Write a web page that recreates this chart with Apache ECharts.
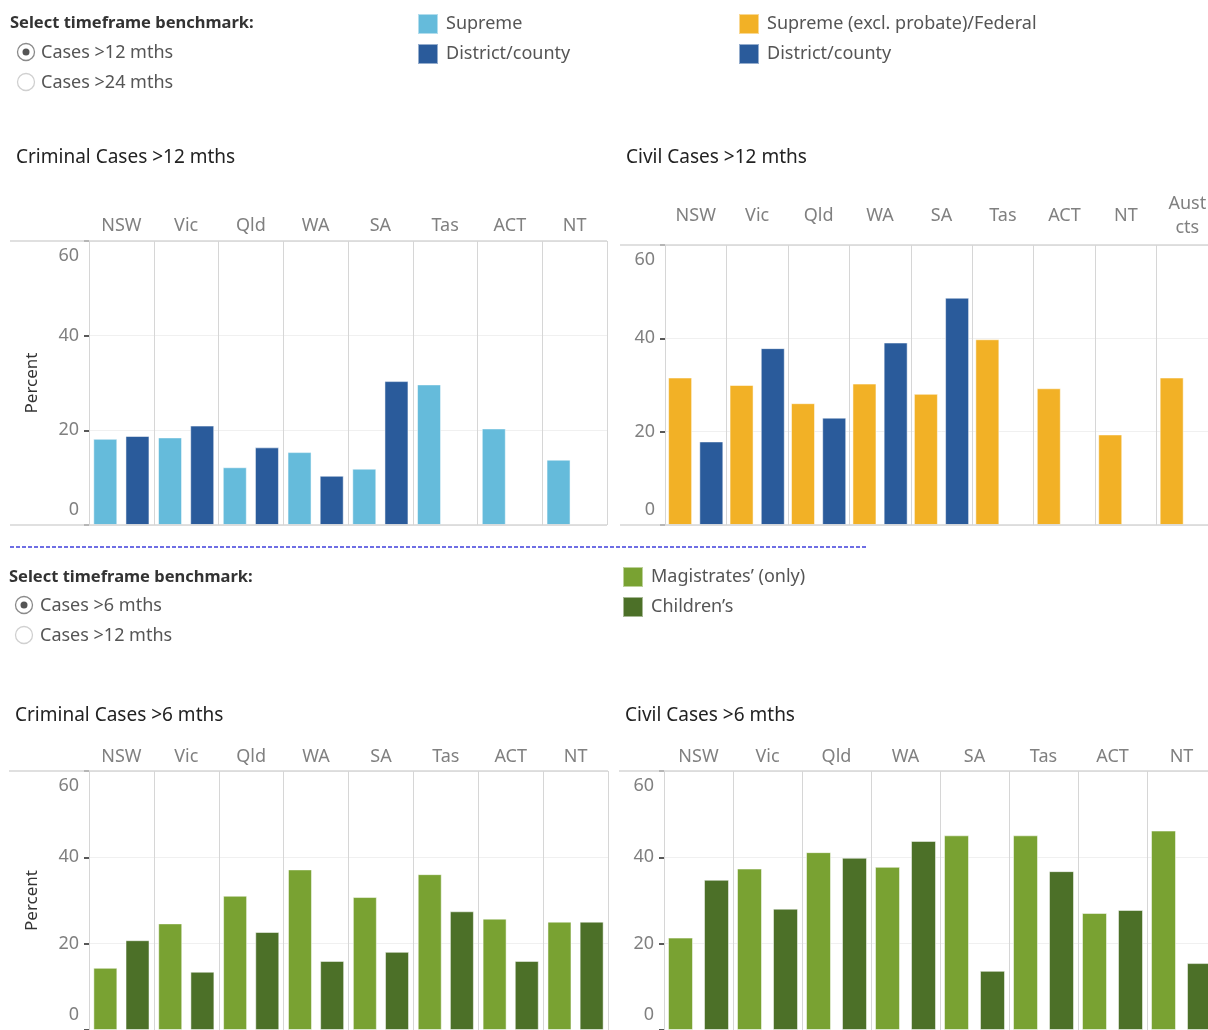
<!DOCTYPE html>
<html>
<head>
    <meta charset="utf-8">
    <title>Cases pending benchmarks</title>
    <script src="https://cdn.jsdelivr.net/npm/echarts@6/dist/echarts.min.js"></script>
    <style>
        html, body { margin: 0; padding: 0; background: #fff; overflow: hidden; }
    </style>
</head>
<body>
    <!-- a bit wider than the window: the right-hand panels run off the edge like the original -->
    <div id="main" style="width: 1230px;height:1030px;"></div>
    <script>
        // categories
        var states = ['NSW', 'Vic', 'Qld', 'WA', 'SA', 'Tas', 'ACT', 'NT'];
        var civilCourts = ['NSW', 'Vic', 'Qld', 'WA', 'SA', 'Tas', 'ACT', 'NT', 'Aust cts'];
        var yTicks = [0, 20, 40, 60];

        // Criminal cases > 12 months (per cent)
        var crimSupreme12 = [18.2, 18.5, 12.2, 15.4, 11.9, 29.7, 20.4, 13.8];
        var crimDistrict12 = [18.8, 21.0, 16.4, 10.4, 30.4, null, null, null];
        // Civil cases > 12 months
        var civSupreme12 = [31.6, 30.0, 26.1, 30.3, 28.1, 39.8, 29.3, 19.4, 31.6];
        var civDistrict12 = [17.9, 37.9, 23.0, 39.1, 48.7, null, null, null, null];
        // Criminal cases > 6 months
        var crimMagistrates6 = [14.4, 24.7, 31.1, 37.2, 30.8, 36.1, 25.8, 25.1];
        var crimChildrens6 = [20.8, 13.5, 22.7, 16.0, 18.1, 27.5, 16.0, 25.1];
        // Civil cases > 6 months
        var civMagistrates6 = [21.4, 37.4, 41.2, 37.8, 45.1, 45.1, 27.1, 46.2];
        var civChildrens6 = [34.8, 28.1, 39.9, 43.8, 13.7, 36.8, 27.8, 15.5];

        var C_SUP = '#65bbdb', C_DIST = '#2a5b9b', C_FED = '#f2b126';
        var C_MAG = '#79a232', C_CHILD = '#4c7028';
        var FONT = 'Noto Sans';

        // layout of the four panels
        var grids = [
            { left: 89, top: 241, width: 518, height: 284, frameLeft: 10, labelMargin: 15, barWidth: 24, barGap: '34%' },
            { left: 665, top: 245, width: 553, height: 280, frameLeft: 620, labelMargin: 29, barWidth: 24, barGap: '30%' },
            { left: 89, top: 771, width: 519, height: 265, frameLeft: 9, labelMargin: 14, barWidth: 24, barGap: '34%' },
            { left: 664, top: 771, width: 552, height: 265, frameLeft: 619, labelMargin: 14, barWidth: 25, barGap: '44%' }
        ];

        var myChart = echarts.init(document.getElementById('main'));

        function xAxisFor(i, cats) {
            return {
                type: 'category', gridIndex: i, position: 'top', data: cats,
                axisLine: { show: false }, axisTick: { show: false },
                splitLine: { show: true, interval: 0, lineStyle: { color: '#d6d6d6', width: 1 } },
                axisLabel: {
                    interval: 0, color: '#808080', fontSize: 18, fontFamily: FONT,
                    margin: grids[i].labelMargin, verticalAlign: 'middle', lineHeight: 24,
                    formatter: function (v) { return v.replace(' ', '\n'); }
                }
            };
        }

        function yAxisFor(i, withName) {
            return {
                type: 'value', gridIndex: i, min: yTicks[0], max: yTicks[yTicks.length - 1], interval: 20,
                name: withName ? 'Percent' : '', nameLocation: 'middle', nameGap: 48,
                nameTextStyle: { color: '#333', fontSize: 17, fontFamily: FONT },
                axisLine: { show: false },
                axisTick: { show: true, length: 5, lineStyle: { color: '#222', width: 1.5 } },
                splitLine: { show: true, lineStyle: { color: '#f0f0f0' } },
                axisLabel: {
                    color: '#808080', fontSize: 18, fontFamily: FONT, margin: 10,
                    padding: [6, 0, 6, 0],
                    verticalAlignMinLabel: 'bottom', verticalAlignMaxLabel: 'top'
                }
            };
        }

        function barSeries(name, i, data, color) {
            return {
                name: name, type: 'bar', xAxisIndex: i, yAxisIndex: i, data: data,
                barWidth: grids[i].barWidth, barGap: grids[i].barGap,
                itemStyle: { color: color, borderColor: 'rgba(255,255,255,0.5)', borderWidth: 1 },
                emphasis: { disabled: true }
            };
        }

        // frame lines above and below each panel, spanning the y label column
        var frame = [];
        grids.forEach(function (g) {
            var right = g.left + g.width;
            [g.top, g.top + g.height].forEach(function (y) {
                frame.push({
                    type: 'line', silent: true, z: 5,
                    shape: { x1: g.frameLeft, y1: y, x2: right, y2: y },
                    style: { stroke: '#d6d6d6', lineWidth: 1.5 }
                });
            });
        });

        function radio(cx, cy, on) {
            var els = [{
                type: 'circle', shape: { cx: cx, cy: cy, r: 8.5 },
                style: { fill: '#fff', stroke: on ? '#8a8a8a' : '#d0d0d0', lineWidth: 1.3 }
            }];
            if (on) els.push({ type: 'circle', shape: { cx: cx, cy: cy, r: 3.5 }, style: { fill: '#555' } });
            return els;
        }

        function label(x, y, text, size, color, weight) {
            return {
                type: 'text', x: x, y: y,
                style: {
                    text: text, fill: color, fontSize: size, fontFamily: FONT,
                    fontWeight: weight || 'normal', verticalAlign: 'middle'
                }
            };
        }

        var graphics = [].concat(
            frame,
            [label(10, 23, 'Select timeframe benchmark:', 16.5, '#333', 'bold')],
            radio(26, 52, true), [label(41, 53, 'Cases >12 mths', 18, '#555')],
            radio(26, 82, false), [label(41, 83, 'Cases >24 mths', 18, '#555')],
            [label(16, 158, 'Criminal Cases >12 mths', 19, '#222')],
            [label(626, 158, 'Civil Cases >12 mths', 19, '#222')],
            [{
                type: 'line', silent: true,
                shape: { x1: 10, y1: 547, x2: 868, y2: 547 },
                style: { stroke: '#3f3fdc', lineWidth: 1.5, lineDash: [4, 2] }
            }],
            [label(9, 577, 'Select timeframe benchmark:', 16.5, '#333', 'bold')],
            radio(24, 605, true), [label(40, 606, 'Cases >6 mths', 18, '#555')],
            radio(24, 635, false), [label(40, 636, 'Cases >12 mths', 18, '#555')],
            [label(15, 716, 'Criminal Cases >6 mths', 19, '#222')],
            [label(625, 716, 'Civil Cases >6 mths', 19, '#222')]
        );

        function legendAt(left, top, names) {
            return {
                left: left, top: top, orient: 'vertical', data: names, padding: 0,
                icon: 'rect', itemWidth: 20, itemHeight: 20, itemGap: 8,
                selectedMode: false,
                textStyle: { color: '#555', fontSize: 18, lineHeight: 20, fontFamily: FONT, padding: [0, 0, 0, 3] }
            };
        }

        var option = {
            backgroundColor: '#fff',
            animation: false,
            textStyle: { fontFamily: FONT },
            legend: [
                legendAt(417, 13, ['Supreme', 'District/county']),
                legendAt(738, 13, ['Supreme (excl. probate)/Federal', 'District/county']),
                legendAt(622, 566, ['Magistrates\u2019 (only)', 'Children\u2019s'])
            ],
            grid: grids.map(function (g) {
                return { left: g.left, top: g.top, width: g.width, height: g.height, containLabel: false };
            }),
            xAxis: [
                xAxisFor(0, states),
                xAxisFor(1, civilCourts),
                xAxisFor(2, states),
                xAxisFor(3, states)
            ],
            yAxis: [
                yAxisFor(0, true),
                yAxisFor(1, false),
                yAxisFor(2, true),
                yAxisFor(3, false)
            ],
            series: [
                barSeries('Supreme', 0, crimSupreme12, C_SUP),
                barSeries('District/county', 0, crimDistrict12, C_DIST),
                barSeries('Supreme (excl. probate)/Federal', 1, civSupreme12, C_FED),
                barSeries('District/county', 1, civDistrict12, C_DIST),
                barSeries('Magistrates\u2019 (only)', 2, crimMagistrates6, C_MAG),
                barSeries('Children\u2019s', 2, crimChildrens6, C_CHILD),
                barSeries('Magistrates\u2019 (only)', 3, civMagistrates6, C_MAG),
                barSeries('Children\u2019s', 3, civChildrens6, C_CHILD)
            ],
            graphic: graphics
        };
        myChart.setOption(option);
    </script>
</body>
</html>
